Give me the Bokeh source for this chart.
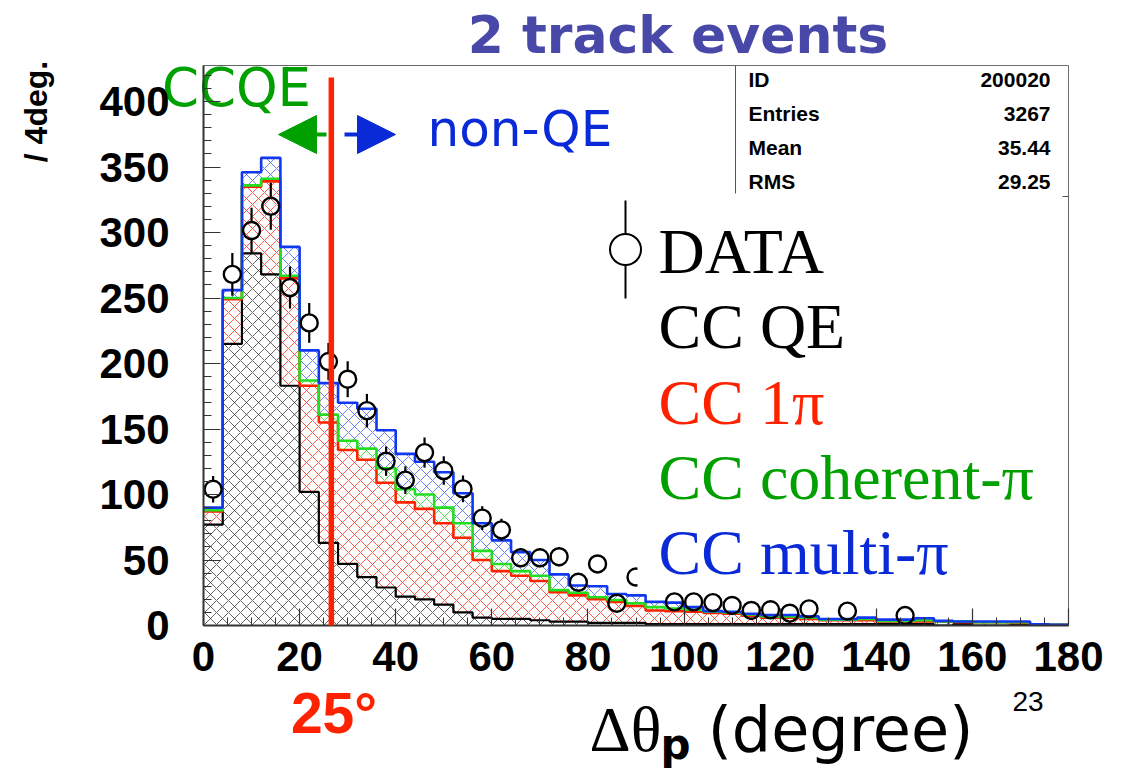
import json
import numpy as np
from bokeh.plotting import figure
from bokeh.models import (Range1d, Label, Arrow, NormalHead, FixedTicker, LinearAxis,
                          CustomJSTickFormatter)
from bokeh.embed import file_html
from bokeh.resources import INLINE

# ---------------- data (4-degree bins, 0..180) ----------------
bin_width = 4
bin_edges = list(range(0, 181, bin_width))

# stacked, cumulative heights
cc_qe = [77, 215, 284, 268, 183, 102, 63, 47, 37, 29, 22, 20, 16, 10, 6, 5, 5, 4, 3, 3,
         2, 2, 2, 1, 1, 1, 1, 1, 1, 1, 1, 1, 1, 1, 1, 1, 1, 1, 0, 1, 0, 0, 1, 0, 0]
cc_qe_1pi = [87, 249, 335, 339, 265, 183, 155, 134, 126.5, 109, 94, 89, 78, 67, 50, 41.5, 38, 34, 25.5, 23,
             20, 18, 15, 11.5, 11, 10.5, 9.5, 9, 7.5, 6, 6, 5, 4, 4, 4, 3, 3, 3, 3, 2.5, 2.5, 2.5, 2, 1, 0.5]
cc_qe_1pi_coh = [88, 250, 336, 341, 267, 187, 161, 141, 135, 120, 104, 100, 90, 78, 57, 47, 41.5, 38, 27, 25,
                 21.6, 19.5, 17, 14, 13, 12, 10.5, 10, 8.5, 7, 7, 6, 4.5, 4.5, 5, 3.5, 3.5, 4, 3, 3, 2.5, 2.5, 2.5, 1, 0.5]
cc_total = [90, 256, 346, 357, 289, 210, 185, 170, 165.5, 149, 131, 125, 117, 101, 78, 65, 56, 50, 39, 30.5,
            30, 24, 23, 18, 17.5, 14, 11, 10.5, 9, 8, 8, 7, 5, 5, 6, 4.5, 4.5, 5.5, 3.5, 3, 3, 3, 3, 1, 0.5]

data_x = [2, 6, 10, 14, 18, 22, 26, 30, 34, 38, 42, 46, 50, 54, 58, 62, 66, 70, 74, 78,
          82, 86, 90, 98, 102, 106, 110, 114, 118, 122, 126, 134, 146]
data_y = [104, 268, 301.5, 320, 258, 231, 201.5, 188, 164, 125.4, 111, 132, 118.3, 104.3, 82, 73, 51.7, 51.7, 52.5, 33,
          47, 17, 37, 18, 18, 17.5, 15.3, 11.5, 12, 9.4, 12.7, 11, 7.6]

x_ticks = list(range(0, 181, 20))
x_minor = list(range(0, 181, 5))
y_ticks = list(range(0, 401, 50))
y_minor = list(range(0, 421, 10))

stats_names = ["ID", "Entries", "Mean", "RMS"]
stats_values = ["200020", "3267", "35.44", "29.25"]

legend_texts = ["DATA", "CC QE", "CC 1\u03c0", "CC coherent-\u03c0", "CC multi-\u03c0"]

title_text = "2 track events"
x_title_parts = ["\u0394\u03b8", "(degree)", "p"]
cut_text = "25\u00b0"
page_text = "23"
y_title = "/ 4deg."

CUT_DEG = 26.6

# ---------------- geometry helpers (pixel -> data) ----------------
X_LEFT, X_RIGHT, Y_TOP, Y_BOT = 203, 1068, 65, 625
Y_MAX = (Y_BOT - Y_TOP) / 1.31
PX_X = (X_RIGHT - X_LEFT) / 180.0
PX_Y = (Y_BOT - Y_TOP) / Y_MAX


def dx(px):
    return (px - X_LEFT) / PX_X


def dy(py):
    return (Y_BOT - py) / PX_Y


RED = "#ff2200"
GREEN_TXT = "#00a000"
GREEN_LINE = "#22dd22"
BLUE = "#0a2ad8"
BLUE_LINE = "#1038f0"

p = figure(width=1122, height=769, output_backend="svg", toolbar_location=None,
           x_range=Range1d(0, 180), y_range=Range1d(0, Y_MAX),
           min_border_left=X_LEFT, min_border_right=1122 - X_RIGHT,
           min_border_top=Y_TOP, min_border_bottom=769 - Y_BOT)
p.xgrid.visible = False
p.ygrid.visible = False
p.background_fill_color = "white"
p.border_fill_color = "white"
p.outline_line_color = "#666666"
p.outline_line_width = 1

# axes
for ax in (p.xaxis[0], p.yaxis[0]):
    ax.axis_line_color = "#333333"
    ax.axis_line_width = 2
    ax.major_tick_line_color = "#333333"
    ax.minor_tick_line_color = "#333333"
    ax.major_tick_line_width = 1.2
    ax.minor_tick_line_width = 1
    ax.major_tick_out = 0
    ax.minor_tick_out = 0
    ax.major_tick_in = 17
    ax.minor_tick_in = 8
    ax.major_label_text_font = "Liberation Sans"
    ax.major_label_text_font_style = "bold"
    ax.major_label_text_font_size = "42px"
    ax.major_label_text_color = "black"
p.xaxis.ticker = FixedTicker(ticks=x_ticks, minor_ticks=x_minor)
p.yaxis.ticker = FixedTicker(ticks=y_ticks, minor_ticks=y_minor)
p.xaxis.major_label_standoff = 16
p.yaxis.major_label_standoff = 34


def text_axis(side, pos, text, font, size, color="black", style="normal", standoff=0, vertical=False):
    """An extra, invisible axis carrying one tick label used as a free text."""
    ax = LinearAxis(ticker=FixedTicker(ticks=[pos], minor_ticks=[]),
                    formatter=CustomJSTickFormatter(code="return %s;" % json.dumps(text)),
                    axis_line_color=None, major_tick_line_color=None, minor_tick_line_color=None,
                    major_tick_in=0, major_tick_out=0, minor_tick_in=0, minor_tick_out=0,
                    major_label_text_font=font, major_label_text_font_size=size,
                    major_label_text_color=color, major_label_text_font_style=style,
                    major_label_standoff=standoff)
    if vertical:
        ax.major_label_orientation = "vertical"
    p.add_layout(ax, side)


# stacked hatched fills
centers = [e + bin_width / 2 for e in bin_edges[:-1]]
zeros = [0] * len(centers)
layers = [
    (zeros, cc_qe, "#000000", 0.6),
    (cc_qe, cc_qe_1pi, "#ff3a2a", 0.85),
    (cc_qe_1pi, cc_qe_1pi_coh, "#22dd22", 0.85),
    (cc_qe_1pi_coh, cc_total, "#3355ff", 0.75),
]
for bot, top, col, alpha in layers:
    p.vbar(x=centers, width=bin_width, bottom=bot, top=top, fill_alpha=0, line_alpha=0,
           hatch_pattern="diagonal_cross", hatch_color=col, hatch_alpha=alpha,
           hatch_scale=12, hatch_weight=1)

# step outlines
for vals, col, w in [(cc_qe, "black", 2.2), (cc_qe_1pi, RED, 2.6),
                     (cc_qe_1pi_coh, GREEN_LINE, 2.6), (cc_total, BLUE_LINE, 2.6)]:
    p.step(x=bin_edges, y=list(vals) + [vals[-1]], mode="after", line_color=col, line_width=w)

# data points: open circles with sqrt(N) error bars drawn outside the marker
r_units = 8.5 / PX_Y
dx_arr = np.array(data_x, dtype=float)
dy_arr = np.array(data_y, dtype=float)
err = np.sqrt(dy_arr)
p.segment(x0=dx_arr, y0=dy_arr + r_units, x1=dx_arr, y1=dy_arr + np.maximum(err, r_units),
          line_color="black", line_width=2.2)
p.segment(x0=dx_arr, y0=dy_arr - r_units, x1=dx_arr, y1=dy_arr - np.maximum(err, r_units),
          line_color="black", line_width=2.2)
p.scatter(x=dx_arr, y=dy_arr, marker="circle", size=17, fill_alpha=0,
          line_color="black", line_width=2.4)

# stats box (glyph, so the legend box can cover its lower edge)
p.quad(left=[dx(735)], right=[180], bottom=[dy(196)], top=[Y_MAX],
       fill_color="white", line_color="#555555", line_width=1)
# legend box (white, covers the histogram beneath)
p.quad(left=[dx(637)], right=[dx(1062)], bottom=[dy(588)], top=[dy(193)],
       fill_color="white", line_alpha=0)
# legend data marker (above legend box)
p.segment(x0=[dx(625)], y0=[dy(200)], x1=[dx(625)], y1=[dy(298)], line_color="black", line_width=2)
p.scatter(x=[dx(625)], y=[dy(249)], marker="circle", size=31, fill_color="white",
          line_color="black", line_width=2)

for i, (n, v) in enumerate(zip(stats_names, stats_values)):
    yy = dy(79 + 34 * i)
    p.add_layout(Label(x=dx(748), y=yy, text=n, text_font="Liberation Sans", text_font_style="bold",
                       text_font_size="21px", text_baseline="middle", text_align="left", text_color="black"))
    p.add_layout(Label(x=dx(1050), y=yy, text=v, text_font="Liberation Sans", text_font_style="bold",
                       text_font_size="21px", text_baseline="middle", text_align="right", text_color="black"))

legend_colors = ["black", "black", RED, GREEN_TXT, BLUE]
for i, (t, c) in enumerate(zip(legend_texts, legend_colors)):
    p.add_layout(Label(x=dx(658), y=dy(251 + 75.3 * i), text=t, text_font="Liberation Serif",
                       text_font_size="64px", text_color=c, text_baseline="middle", text_align="left"))

p.add_layout(Label(x=dx(427), y=dy(128), text="non-QE", text_font="DejaVu Sans",
                   text_font_size="50px", text_color=BLUE, text_baseline="middle", text_align="left"))

# red cut line
p.add_layout(Arrow(start=None, end=None, x_start=CUT_DEG, y_start=dy(632), x_end=CUT_DEG, y_end=dy(77),
                   line_color=RED, line_width=5.5))

# arrows
p.add_layout(Arrow(end=NormalHead(size=38, fill_color="#00a000", line_color="#00a000"),
                   x_start=dx(326), y_start=dy(134), x_end=dx(278), y_end=dy(134),
                   line_color="#00a000", line_width=4))
p.add_layout(Arrow(end=NormalHead(size=38, fill_color=BLUE, line_color=BLUE),
                   x_start=dx(344), y_start=dy(134), x_end=dx(395), y_end=dy(134),
                   line_color=BLUE, line_width=4))

# ---- free texts outside the frame, carried by invisible side axes ----
# above (stacked upward from the frame top); the later ones have negative extent,
# so they do not enlarge the panel and sit at the requested place
text_axis("above", dx(677.5), title_text, "DejaVu Sans", "52px", "#4848a8", "bold", standoff=1)
text_axis("above", dx(236), "CCQE", "DejaVu Sans", "53px", GREEN_TXT, "normal", standoff=-116)
text_axis("above", dx(333.5), cut_text, "Liberation Sans", "57px", RED, "bold", standoff=-743)
text_axis("above", dx(625), x_title_parts[0], "Liberation Serif", "64px", "black", "normal", standoff=-763)
text_axis("above", dx(840), x_title_parts[1], "DejaVu Sans", "62px", "black", "normal", standoff=-764)
text_axis("above", dx(675), x_title_parts[2], "DejaVu Sans", "42px", "black", "bold", standoff=-767)
text_axis("above", dx(1027.5), page_text, "Liberation Sans", "28px", "black", "normal", standoff=-709)
# left (stacked leftward from the y axis)
text_axis("left", dy(111), y_title, "Liberation Sans", "32px", "black", "bold", standoff=43, vertical=True)

open("out.html", "w").write(file_html(p, INLINE))
